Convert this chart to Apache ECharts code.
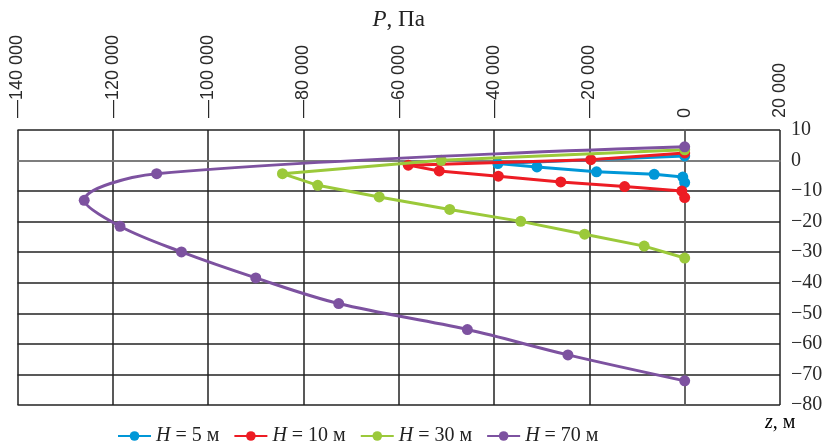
<!DOCTYPE html>
<html>
<head>
<meta charset="utf-8">
<script src="https://cdn.jsdelivr.net/npm/echarts@6/dist/echarts.min.js"></script>
<style>
  html, body { margin: 0; padding: 0; background: #fff; }
  #chart { width: 830px; height: 445px; }
</style>
</head>
<body>
<div id="chart"></div>
<script>
// Pressure P (Pa) against height z (m) for several heights H
const seriesNames = ['H = 5 м', 'H = 10 м', 'H = 30 м', 'H = 70 м'];
const colors = ['#0097D7', '#ED1C24', '#9BC93A', '#7D52A0'];

const pH5  = [0, -39200, -31000, -18500, -6400, -400, 0];
const zH5  = [1.5, -1.0, -2.1, -3.7, -4.5, -5.4, -7.2];

const pH10 = [0, -19700, -58000, -51500, -39100, -26000, -12600, -600, 0];
const zH10 = [2.5, 0.3, -1.5, -3.4, -5.1, -7.0, -8.5, -10.0, -12.1];

const pH30 = [0, -51100, -84400, -77000, -64100, -49300, -34400, -21000, -8500, 0];
const zH30 = [3.5, 0.1, -4.3, -8.1, -11.9, -16.0, -19.9, -24.1, -28.0, -31.9];

const pH70 = [0, -110800, -126000, -118500, -105600, -90000, -72600, -45600, -24500, 0];
const zH70 = [4.5, -4.3, -13.0, -21.5, -29.9, -38.4, -46.8, -55.3, -63.6, -72.1];

const pAxis = { min: -140000, max: 20000, step: 20000 };
const zAxis = { min: -80, max: 10, step: 10 };

const pairs = (xs, ys) => xs.map((x, i) => [x, ys[i]]);
const allP = [pH5, pH10, pH30, pH70];
const allZ = [zH5, zH10, zH30, zH70];

function fmtP(v) {
  const a = Math.abs(v);
  const s = String(a).replace(/\B(?=(\d{3})+(?!\d))/g, ' ');
  return v < 0 ? '—' + s : s;
}

const serif = 'Liberation Serif';
const richName = size => ({
  i: { fontFamily: serif, fontStyle: 'italic', fontSize: size, color: '#222' },
  t: { fontFamily: serif, fontSize: size, color: '#222' }
});

const chart = echarts.init(document.getElementById('chart'), null, { renderer: 'canvas' });

const series = seriesNames.map((name, k) => ({
  name: name,
  type: 'line',
  data: pairs(allP[k], allZ[k]),
  smooth: k === 3 ? 0.35 : false,
  symbol: 'circle',
  symbolSize: 11,
  lineStyle: { color: colors[k], width: 3 },
  itemStyle: { color: colors[k] },
  z: 2 + k
}));

chart.setOption({
  animation: false,
  backgroundColor: '#fff',
  grid: { left: 17.5, right: 50, top: 130, bottom: 40, containLabel: false },
  xAxis: {
    type: 'value',
    position: 'top',
    min: pAxis.min, max: pAxis.max, interval: pAxis.step,
    name: '{i|P}{t|, Па}',
    nameLocation: 'middle',
    nameGap: 99,
    nameMoveOverlap: false,
    nameTextStyle: { rich: richName(23) },
    axisLine: { show: true, lineStyle: { color: '#8a8a8a', width: 1.5 } },
    axisTick: { show: false },
    axisLabel: {
      rotate: 90,
      margin: 12,
      fontFamily: 'Liberation Sans',
      fontSize: 18,
      color: '#2a2a2a',
      formatter: fmtP
    },
    splitLine: { show: true, lineStyle: { color: '#222', width: 1.5 } }
  },
  yAxis: {
    type: 'value',
    position: 'right',
    min: zAxis.min, max: zAxis.max, interval: zAxis.step,
    axisLine: { show: true, lineStyle: { color: '#6a6a6a', width: 1.5 } },
    axisTick: { show: false },
    axisLabel: {
      margin: 11,
      fontFamily: serif,
      fontSize: 20,
      color: '#2a2a2a',
      formatter: v => (v < 0 ? '−' + Math.abs(v) : String(v))
    },
    splitLine: { show: true, lineStyle: { color: '#222', width: 1.5 } }
  },
  graphic: [{
    type: 'text',
    left: 765,
    top: 413,
    style: {
      text: '{i|z}{t|, м}',
      rich: richName(20)
    }
  }],
  legend: {
    data: seriesNames,
    left: 117,
    top: 426,
    padding: 0,
    itemWidth: 33,
    itemHeight: 12,
    itemGap: 14,
    formatter: name => '{i|H}{t|' + name.slice(1) + '}',
    textStyle: { rich: richName(20) }
  },
  series: series
});
</script>
</body>
</html>
